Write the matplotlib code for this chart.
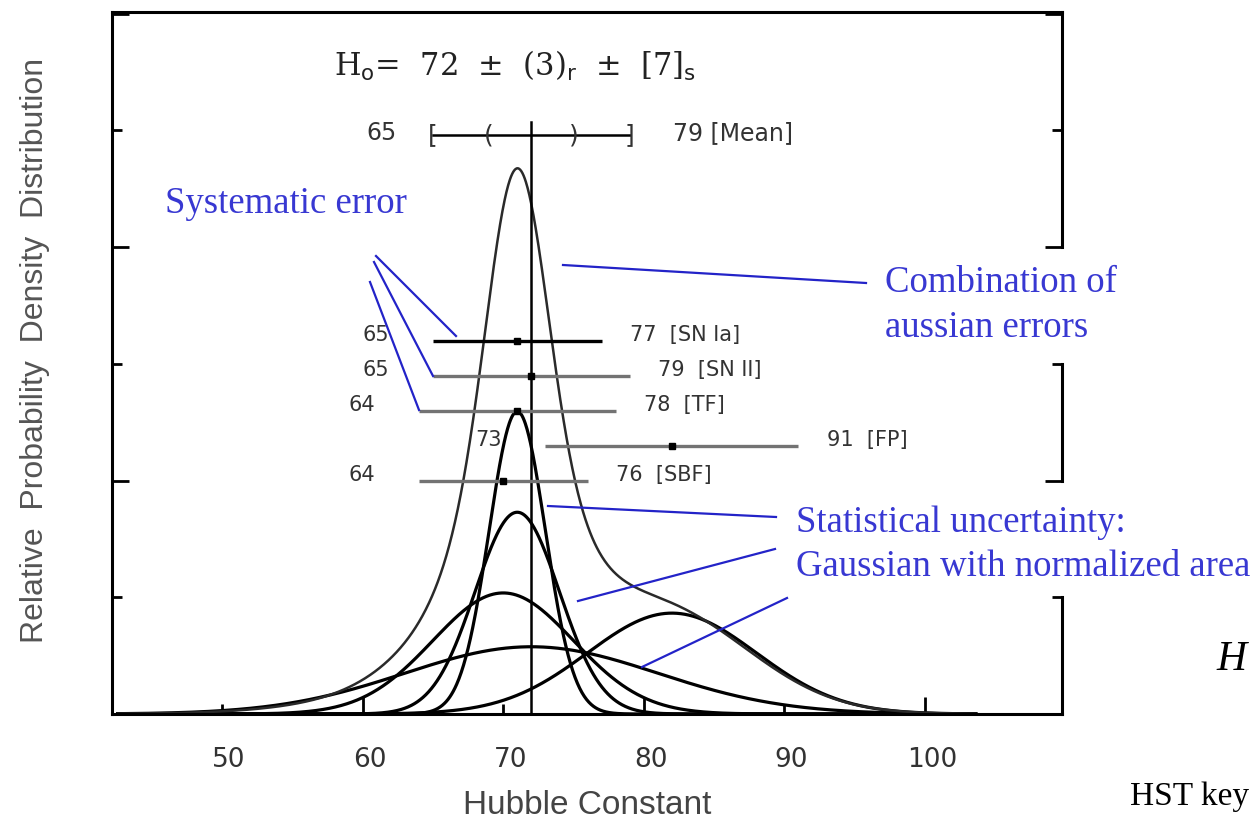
import numpy as np
import matplotlib
matplotlib.use('Agg')
import matplotlib.pyplot as plt
from matplotlib.transforms import ScaledTranslation

# H0 from each distance method: central value, random sigma, systematic range
methods = ['SN Ia', 'SN II', 'TF', 'FP', 'SBF']
h0 = [71, 72, 71, 82, 70]
sigma_r = [2, 9, 3, 6, 5]
sys_lo = [65, 65, 64, 73, 64]
sys_hi = [77, 79, 78, 91, 76]
bar_y = [3.2, 2.9, 2.6, 2.3, 2.0]

# combined result
h0_mean = 72
mean_r = [69, 75]
mean_s = [65, 79]
mean_y = 4.96

area = 13.0        # area of each normalised gaussian in plot units
comb_scale = 0.77  # scaling of the summed distribution

W, H = 1260, 824
fig = plt.figure(figsize=(W / 100, H / 100), dpi=100)
ax = fig.add_axes([112 / W, 110 / H, 950 / W, 702 / H])

def fx(px):
    return px / W

def fy(py):
    return 1 - py / H

x = np.linspace(42.6, 103.6, 1500)
curves = []
for mu, s in zip(h0, sigma_r):
    g = area / (s * np.sqrt(2 * np.pi)) * np.exp(-(x - mu) ** 2 / (2 * s ** 2))
    curves.append(g)
    ax.plot(x, g, color='black', lw=2.3, solid_joinstyle='miter')
ax.plot(x, comb_scale * np.sum(curves, axis=0), color='#2a2a2a', lw=1.8)

# mean marker line
ax.plot([h0_mean, h0_mean], [0, 5.07], color='black', lw=1.8)

# systematic ranges for each method
txt = dict(color='#333333', fontsize=15, family='DejaVu Sans', va='center')
for i, m in enumerate(methods):
    col = 'black' if m == 'SN Ia' else '#737373'
    ax.plot([sys_lo[i], sys_hi[i]], [bar_y[i], bar_y[i]], color=col, lw=2.4,
            solid_capstyle='butt')
    ax.plot(h0[i], bar_y[i], 's', color='black', ms=4)
    ax.text(sys_lo[i] - 3.1, bar_y[i] + 0.05, str(sys_lo[i]), ha='right', **txt)
    ax.text(sys_hi[i] + 2.0, bar_y[i] + 0.05, f'{sys_hi[i]}  [{m}]', ha='left', **txt)

# combined value with random () and systematic [] ranges
ax.plot(mean_s, [mean_y, mean_y], color='black', lw=1.8)
mt = dict(color='#333333', fontsize=18, family='DejaVu Sans', va='center', ha='center')
ax.text(mean_s[0], mean_y, '[', **mt)
ax.text(mean_s[1], mean_y, ']', **mt)
ax.text(mean_r[0], mean_y, '(', **mt)
ax.text(mean_r[1], mean_y, ')', **mt)
ax.text(mean_s[0] - 2.6, mean_y + 0.02, str(mean_s[0]), color='#333333', fontsize=17,
        family='DejaVu Sans', va='center', ha='right')
ax.text(mean_s[1] + 3.1, mean_y + 0.02, f'{mean_s[1]} [Mean]', color='#333333', fontsize=17,
        family='DejaVu Sans', va='center', ha='left')
ax.text(58.0, 5.55, r'H$_{\rm o}$=  72  $\pm$  (3)$_{\rm r}$  $\pm$  [7]$_{\rm s}$',
        color='#222222', fontsize=22, family='DejaVu Serif', va='center', ha='left')

# axes
ax.set_xlim(42.18, 109.74)
ax.set_ylim(0, 6.015)
ax.set_xticks([60, 80, 100])
ax.set_xticks([50, 70, 90], minor=True)
ax.set_xticklabels(['60', '80', '100'])
ax.set_xticklabels(['50', '70', '90'], minor=True)
ax.set_yticks([0, 2, 4, 6])
ax.set_yticks([1, 3, 5], minor=True)
ax.set_yticklabels([])
ax.tick_params(which='both', direction='in', width=2, labelsize=19,
               labelcolor='#333333', pad=24, left=True, right=True)
ax.tick_params(which='major', length=12)
ax.tick_params(which='minor', length=7)
shift = ScaledTranslation(7 / 100, 0, fig.dpi_scale_trans)
for lab in ax.get_xticklabels(which='both'):
    lab.set_transform(lab.get_transform() + shift)

for side in ['left', 'bottom', 'top']:
    ax.spines[side].set_linewidth(2.2)
ax.spines['right'].set_visible(False)
for y0, y1 in [(4, 6.015), (2, 3), (0, 1)]:
    ax.plot([1, 1], [y0, y1], transform=ax.get_yaxis_transform(), color='black',
            lw=2.2, clip_on=False, solid_capstyle='projecting')

fig.text(fx(587), fy(806), 'Hubble Constant', fontsize=24, color='#444444',
         family=['Liberation Sans', 'DejaVu Sans'], ha='center', va='center')
fig.text(fx(35), fy(350), 'Relative  Probability  Density  Distribution', rotation=90,
         fontsize=23, color='#555555', family=['Liberation Sans', 'DejaVu Sans'],
         ha='center', va='center')

# blue annotations with leader lines
blue = '#3838d2'
lead = '#2323c8'
bt = dict(color=blue, fontsize=26.5, family=['Liberation Serif', 'DejaVu Serif'],
          ha='left', va='center')
fig.text(fx(165), fy(204), 'Systematic error', **bt)
fig.text(fx(885), fy(283), 'Combination of', **bt)
fig.text(fx(885), fy(328), 'aussian errors', **bt)
fig.text(fx(796), fy(523), 'Statistical uncertainty:', **bt)
fig.text(fx(796), fy(567), 'Gaussian with normalized area', **bt)

leaders = [
    ((376, 256), (456, 336)),
    ((374, 262), (433, 376)),
    ((370, 282), (419, 410)),
    ((563, 265), (866, 283)),
    ((548, 506), (776, 517)),
    ((578, 601), (775, 549)),
    ((642, 667), (787, 598)),
]
for (xa, ya), (xb, yb) in leaders:
    fig.add_artist(plt.Line2D([fx(xa), fx(xb)], [fy(ya), fy(yb)], color=lead, lw=1.6))

fig.text(fx(1216), fy(660), 'H', fontsize=30, style='italic', color='black',
         family=['Liberation Serif', 'DejaVu Serif'], ha='left', va='center')
fig.text(fx(1130), fy(797), 'HST key', fontsize=24, color='black',
         family=['Liberation Serif', 'DejaVu Serif'], ha='left', va='center')

fig.savefig('out.png', dpi=100)
